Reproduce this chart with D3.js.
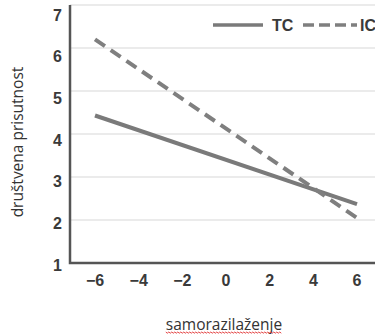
<!DOCTYPE html>
<html>
<head>
<meta charset="utf-8">
<script src="https://cdn.jsdelivr.net/npm/d3@7"></script>
<style>
  body { margin: 0; background: #fff; }
  svg text { font-family: "Liberation Sans", Arial, sans-serif; }
</style>
</head>
<body>
<div id="chart"></div>
<script>
// data
const xValues = [-6, 6];
const tcValues = [4.43, 2.37];
const icValues = [6.2, 2.05];
const xTicks = [-6, -4, -2, 0, 2, 4, 6];
const yTicks = [1, 2, 3, 4, 5, 6, 7];
const seriesNames = ['TC', 'IC'];

const width = 375, height = 336;
const svg = d3.select('#chart').append('svg')
    .attr('width', width)
    .attr('height', height);

const x = d3.scaleLinear().domain([-6, 6]).range([95, 357]);
const y = d3.scaleLinear().domain([1, 7]).range([263, 5]);
// tick labels sit a bit lower than their grid lines in the original
const yLab = d3.scaleLinear().domain([1, 7]).range([265, 15]);

// grid
svg.append('g').selectAll('line')
    .data(yTicks.slice(1))
    .join('line')
    .attr('x1', 70).attr('x2', width)
    .attr('y1', d => y(d)).attr('y2', d => y(d))
    .attr('stroke', '#e4e4e4')
    .attr('stroke-width', 1.5);

// y tick labels
svg.append('g').selectAll('text')
    .data(yTicks)
    .join('text')
    .attr('x', 62)
    .attr('y', d => yLab(d))
    .attr('dy', '0.35em')
    .attr('text-anchor', 'end')
    .attr('font-size', 16)
    .attr('font-weight', 'bold')
    .attr('fill', '#3a3a3a')
    .text(d => d);

// x tick labels
svg.append('g').selectAll('text')
    .data(xTicks)
    .join('text')
    .attr('x', d => x(d))
    .attr('y', 280)
    .attr('dy', '0.35em')
    .attr('text-anchor', 'middle')
    .attr('font-size', 16)
    .attr('font-weight', 'bold')
    .attr('fill', '#3a3a3a')
    .text(d => d < 0 ? '\u2212' + Math.abs(d) : d);

// axes lines
svg.append('path')
    .attr('d', `M70,${y(7)}V${y(1)}H${width}`)
    .attr('fill', 'none')
    .attr('stroke', '#555')
    .attr('stroke-width', 2.5);

const line = d3.line()
    .x((d, i) => x(xValues[i]))
    .y(d => y(d));

svg.append('path')
    .datum(tcValues)
    .attr('fill', 'none')
    .attr('stroke', '#7a7a7a')
    .attr('stroke-width', 4)
    .attr('d', line);

svg.append('path')
    .datum(icValues)
    .attr('fill', 'none')
    .attr('stroke', '#7f7f7f')
    .attr('stroke-width', 4)
    .attr('stroke-dasharray', '12,7')
    .attr('d', line);

// legend
const leg = svg.append('g');
leg.append('line')
    .attr('x1', 213).attr('x2', 263).attr('y1', 25).attr('y2', 25)
    .attr('stroke', '#7a7a7a').attr('stroke-width', 3.5);
leg.append('text')
    .attr('x', 272).attr('y', 25).attr('dy', '0.35em')
    .attr('font-size', 16).attr('font-weight', 'bold').attr('fill', '#3a3a3a')
    .text(seriesNames[0]);
leg.append('line')
    .attr('x1', 303).attr('x2', 357).attr('y1', 25).attr('y2', 25)
    .attr('stroke', '#7f7f7f').attr('stroke-width', 3.5)
    .attr('stroke-dasharray', '11,5');
leg.append('text')
    .attr('x', 360).attr('y', 25).attr('dy', '0.35em')
    .attr('font-size', 16).attr('font-weight', 'bold').attr('fill', '#3a3a3a')
    .text(seriesNames[1]);

// axis titles
svg.append('text')
    .attr('transform', 'translate(18,142) rotate(-90)')
    .attr('text-anchor', 'middle')
    .attr('dy', '0.35em')
    .attr('font-size', 15.5)
    .attr('fill', '#333')
    .style('font-family', '"Open Sans", sans-serif')
    .text('društvena prisutnost');

const xt = svg.append('text')
    .attr('x', 224).attr('y', 330)
    .attr('text-anchor', 'middle')
    .attr('font-size', 15.5)
    .attr('fill', '#333')
    .style('font-family', '"Open Sans", sans-serif')
    .text('samorazilaženje');

// red spell-check squiggle under the x title
const bb = xt.node().getBBox();
const sy = 332;
let sq = `M${bb.x},${sy}`;
for (let i = 0; (i + 1) * 1.5 <= bb.width; i++) {
    sq += `L${bb.x + (i + 1) * 1.5},${sy + (i % 2 === 0 ? 1.2 : 0)}`;
}
svg.append('path')
    .attr('d', sq)
    .attr('fill', 'none')
    .attr('stroke', '#e03030')
    .attr('stroke-width', 0.9);
</script>
</body>
</html>
